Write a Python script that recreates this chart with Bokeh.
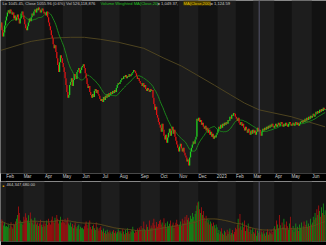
import numpy as np
from bokeh.plotting import figure
from bokeh.models import ColumnDataSource, Range1d, BoxAnnotation, Span, Label, FixedTicker
from bokeh.layouts import column
from bokeh.embed import file_html
from bokeh.resources import INLINE

# ---------------- data ----------------
# trading days per month shown (first entry: partial Jan 2022, last: partial Jun 2023)
month_days = [6, 19, 23, 20, 21, 21, 20, 23, 21, 21, 21, 21, 20, 19, 23, 19, 22, 15]
month_labels = ["", "Feb", "Mar", "Apr", "May", "Jun", "Jul", "Aug", "Sep", "Oct",
                "Nov", "Dec", "2023", "Feb", "Mar", "Apr", "May", "Jun"]

close_jan22 = [1426, 1399, 1378, 1392, 1416, 1433]
close_feb22 = [1447, 1461, 1468, 1457, 1471, 1464, 1454, 1461, 1440, 1450, 1433, 1444, 1454, 1437, 1423, 1440, 1457, 1464, 1450]
close_mar22 = [1437, 1420, 1406, 1399, 1413, 1426, 1440, 1430, 1444, 1457, 1450, 1464, 1471, 1461, 1474, 1468, 1478, 1471, 1461, 1468, 1474, 1464, 1457]
close_apr22 = [1461, 1450, 1464, 1444, 1426, 1413, 1399, 1382, 1372, 1351, 1337, 1348, 1324, 1303, 1279, 1255, 1289, 1313, 1303, 1286]
close_may22 = [1272, 1255, 1234, 1210, 1186, 1166, 1176, 1210, 1221, 1234, 1207, 1228, 1248, 1241, 1231, 1255, 1262, 1269, 1251, 1262, 1272]
close_jun22 = [1276, 1282, 1269, 1251, 1234, 1214, 1200, 1207, 1186, 1176, 1166, 1179, 1169, 1190, 1197, 1183, 1193, 1179, 1173, 1162, 1155]
close_jul22 = [1162, 1152, 1169, 1159, 1173, 1166, 1179, 1169, 1183, 1176, 1186, 1179, 1190, 1183, 1193, 1186, 1200, 1210, 1217, 1214]
close_aug22 = [1221, 1228, 1234, 1231, 1241, 1238, 1245, 1234, 1241, 1238, 1248, 1241, 1245, 1251, 1255, 1262, 1258, 1251, 1241, 1231, 1234, 1224, 1217]
close_sep22 = [1214, 1207, 1217, 1203, 1210, 1197, 1190, 1200, 1193, 1186, 1197, 1190, 1193, 1166, 1145, 1125, 1135, 1107, 1097, 1083, 1073]
close_oct22 = [1063, 1049, 1077, 1056, 1035, 1022, 1039, 1011, 1029, 1046, 1059, 1035, 1053, 1066, 1042, 1056, 1032, 1018, 1005, 994, 981]
close_nov22 = [998, 1008, 991, 981, 994, 977, 967, 960, 946, 953, 933, 960, 981, 994, 1005, 1015, 1008, 1022, 1032, 1094, 1087]
close_dec22 = [1097, 1083, 1090, 1073, 1080, 1066, 1059, 1070, 1053, 1063, 1046, 1056, 1039, 1049, 1032, 1042, 1025, 1035, 1029, 1039, 1046]
close_jan23 = [1056, 1066, 1059, 1073, 1063, 1077, 1070, 1080, 1073, 1083, 1077, 1090, 1087, 1101, 1094, 1108, 1104, 1114, 1111, 1101]
close_feb23 = [1094, 1087, 1097, 1080, 1073, 1083, 1070, 1077, 1063, 1053, 1066, 1056, 1046, 1059, 1049, 1039, 1053, 1042, 1056]
close_mar23 = [1046, 1053, 1039, 1049, 1063, 1049.7, 1055.96, 1042, 1035, 1049, 1059, 1053, 1063, 1056, 1066, 1059, 1070, 1063, 1073, 1066, 1077, 1070, 1063]
close_apr23 = [1070, 1077, 1066, 1073, 1080, 1070, 1077, 1083, 1073, 1066, 1077, 1070, 1080, 1073, 1066, 1077, 1083, 1077, 1070]
close_may23 = [1073, 1080, 1070, 1077, 1083, 1073, 1080, 1070, 1077, 1083, 1087, 1080, 1090, 1083, 1094, 1087, 1097, 1090, 1101, 1094, 1104, 1097]
close_jun23 = [1104, 1111, 1101, 1108, 1118, 1111, 1121, 1114, 1125, 1118, 1128, 1121, 1132, 1125, 1128]
first_open = 1410

# volume, millions of shares
vol_jan22 = [950, 1160, 1050, 840, 1000, 790]
vol_feb22 = [820, 760, 900, 700, 850, 1010, 780, 690, 940, 870, 1050, 1200, 1400, 1840, 1500, 1100, 950, 1020, 880]
vol_mar22 = [1300, 1150, 1480, 1250, 1100, 1380, 1000, 1520, 1200, 980, 1100, 890, 1250, 1050, 900, 1000, 820, 950, 1150, 880, 760, 900, 1050]
vol_apr22 = [800, 950, 1100, 870, 1200, 1000, 900, 1150, 1320, 1050, 980, 1250, 1100, 1400, 1200, 950, 1080, 1300, 1000, 1150]
vol_may22 = [1050, 980, 1200, 900, 1100, 1250, 950, 850, 1000, 780, 920, 700, 850, 1000, 760, 690, 820, 900, 650, 780, 700]
vol_jun22 = [720, 650, 800, 950, 1050, 880, 700, 980, 1100, 760, 650, 820, 900, 700, 600, 1000, 750, 680, 560, 720, 800]
vol_jul22 = [600, 520, 680, 450, 560, 400, 620, 500, 430, 580, 470, 390, 520, 610, 450, 540, 420, 500, 640, 560]
vol_aug22 = [480, 560, 420, 650, 520, 380, 600, 450, 700, 520, 410, 560, 480, 620, 780, 540, 450, 600, 520, 690, 560, 740, 620]
vol_sep22 = [820, 560, 700, 1050, 640, 580, 900, 760, 620, 1100, 680, 840, 720, 980, 1200, 860, 700, 1020, 780, 920, 1080]
vol_oct22 = [1150, 900, 1000, 780, 1220, 880, 960, 700, 1050, 820, 940, 1100, 760, 880, 1000, 720, 850, 980, 1150, 920, 800]
vol_nov22 = [900, 1050, 820, 1200, 950, 1100, 1300, 1000, 1400, 1150, 1250, 1050, 1350, 1200, 1500, 1300, 1100, 1450, 1600, 1900, 2050]
vol_dec22 = [2100, 1700, 1500, 1800, 1400, 1600, 1250, 1100, 1350, 1200, 1000, 1150, 900, 1050, 950, 800, 1000, 850, 700, 900, 750]
vol_jan23 = [450, 600, 380, 520, 700, 420, 350, 560, 480, 300, 620, 400, 520, 680, 350, 450, 600, 380, 500, 720]
vol_feb23 = [650, 900, 1200, 700, 1450, 800, 600, 1000, 750, 1100, 550, 850, 680, 950, 500, 780, 620, 400, 700]
vol_mar23 = [500, 420, 650, 300, 580, 450, 526, 350, 620, 480, 380, 550, 420, 300, 480, 650, 360, 520, 440, 600, 380, 500, 700]
vol_apr23 = [800, 600, 1100, 900, 700, 1400, 850, 650, 1000, 750, 1200, 900, 680, 1050, 800, 620, 950, 1300, 720]
vol_may23 = [600, 820, 500, 700, 950, 650, 780, 550, 900, 720, 1000, 650, 800, 1050, 700, 880, 1100, 750, 950, 820, 1200, 900]
vol_jun23 = [1000, 1300, 1150, 1500, 1250, 1700, 1400, 1900, 1600, 1300, 1800, 1500, 2000, 1400, 1650]

# 200-day moving average, read at a few trading-day indices
ma200_idx = [0, 22, 33, 55, 76, 91, 109, 128, 156, 178, 197, 214, 233, 251, 266, 282, 317, 336, 354]
ma200_val = [1330, 1351, 1361, 1372, 1375, 1375, 1368, 1358, 1337, 1303, 1276, 1245, 1210, 1176, 1148, 1124.59, 1101, 1083, 1066]

cross_idx = 282
header_parts = [
    ("Lo 1045.45, Close 1055.96 (0.6%) Vol 526,118,876", "#c8c8c8", None),
    ("Volume Weighted MA(Close,20)", "#22c022", None),
    ("= 1,049.37,", "#c8c8c8", None),
    ("MA(Close,200)", "#e0c000", "#4a3c00"),
    ("= 1,124.59", "#c8c8c8", None),
]
header_x = [2, 100, 157, 183, 210]
vol_legend = "464,347,680.00"

# ---------------- build ----------------
closes = np.array(close_jan22 + close_feb22 + close_mar22 + close_apr22 + close_may22 + close_jun22 +
                  close_jul22 + close_aug22 + close_sep22 + close_oct22 + close_nov22 + close_dec22 +
                  close_jan23 + close_feb23 + close_mar23 + close_apr23 + close_may23 + close_jun23, dtype=float)
vols = np.array(vol_jan22 + vol_feb22 + vol_mar22 + vol_apr22 + vol_may22 + vol_jun22 + vol_jul22 +
                vol_aug22 + vol_sep22 + vol_oct22 + vol_nov22 + vol_dec22 + vol_jan23 + vol_feb23 +
                vol_mar23 + vol_apr23 + vol_may23 + vol_jun23, dtype=float)
n = len(closes)
idx = np.arange(n)
opens = np.concatenate([[first_open], closes[:-1]])
up = closes >= opens

def rolling_weighted(vals, w, win):
    cv = np.cumsum(vals * w)
    cw = np.cumsum(w)
    out = np.empty(len(vals))
    for i in range(len(vals)):
        j = i - win
        a = cv[i] - (cv[j] if j >= 0 else 0)
        b = cw[i] - (cw[j] if j >= 0 else 0)
        out[i] = a / b
    return out

vwma = rolling_weighted(closes, vols, 20)
vol_ma = rolling_weighted(vols, np.ones(n), 50)

starts = np.concatenate([[0], np.cumsum(month_days)[:-1]])

src = ColumnDataSource(dict(
    x=idx, o=opens, c=closes, v=vols,
    col=np.where(up, "#1fd21f", "#e01212").tolist(),
    vcol=np.where(up, "#17a017", "#c01010").tolist(),
))

xr = Range1d(-0.5, n + 0.5)
BG = "#121212"
LIGHT = "#1d1d1d"

def add_bands(p):
    for k, (s, d) in enumerate(zip(starts, month_days)):
        if k % 2 == 0:
            p.add_layout(BoxAnnotation(left=s - 0.5, right=s + d - 0.5, fill_color=LIGHT,
                                       fill_alpha=1, line_color=None, level="underlay"))
    p.add_layout(Span(location=cross_idx, dimension="height", line_color="#55556c", line_width=1))

# price panel
p1 = figure(width=326, height=181, x_range=xr, y_range=Range1d(905, 1502),
            output_backend="svg", toolbar_location=None, y_axis_location=None,
            background_fill_color=BG, border_fill_color="#000000", min_border=0)
p1.outline_line_color = None
p1.grid.visible = False
add_bands(p1)
p1.line(ma200_idx, ma200_val, line_color="#4e4420", line_width=1)
p1.line(idx, vwma, line_color="#1c851c", line_width=1)
p1.segment(x0="x", y0="o", x1="x", y1="c", line_color="col", line_width=1.3, source=src)

label_ticks = [int(s) + 4 for s, lab in zip(starts, month_labels) if lab]
p1.xaxis.ticker = FixedTicker(ticks=label_ticks)
p1.xaxis.major_label_overrides = {int(s) + 4: lab for s, lab in zip(starts, month_labels) if lab}
p1.xaxis.axis_line_color = None
p1.xaxis.major_tick_line_color = None
p1.xaxis.minor_tick_line_color = None
p1.xaxis.major_tick_out = 0
p1.xaxis.major_tick_in = 0
p1.xaxis.major_label_standoff = 0
p1.xaxis.major_label_text_font_size = "4.5px"
p1.xaxis.major_label_text_color = "#d0d0d0"
p1.xaxis.major_label_text_font = "Liberation Sans"

for (txt, colr, bg), hx in zip(header_parts, header_x):
    lab = Label(x=hx, y=173, x_units="screen", y_units="screen", text=txt,
                text_font_size="4.1px", text_color=colr, text_font="Liberation Sans",
                text_baseline="top")
    if bg:
        lab.background_fill_color = bg
    p1.add_layout(lab)

# volume panel
p2 = figure(width=326, height=64, x_range=xr, y_range=Range1d(0, 3156),
            output_backend="svg", toolbar_location=None, x_axis_location=None,
            y_axis_location=None, background_fill_color=BG, border_fill_color="#000000",
            min_border=0, min_border_bottom=4)
p2.outline_line_color = None
p2.grid.visible = False
add_bands(p2)
p2.vbar(x="x", top="v", bottom=0, width=0.8, fill_color="vcol", line_color=None, source=src)
p2.line(idx, vol_ma, line_color="#5e4c1c", line_width=1)
p2.add_layout(Label(x=2, y=58, x_units="screen", y_units="screen", text="\u25a0",
                    text_font_size="3px", text_color="#e0a000", text_baseline="top"))
p2.add_layout(Label(x=6, y=59, x_units="screen", y_units="screen", text=vol_legend,
                    text_font_size="4.1px", text_color="#c8c8c8", text_font="Liberation Sans",
                    text_baseline="top"))

layout = column(p1, p2, spacing=0)
open("out.html", "w").write(file_html(layout, INLINE))
